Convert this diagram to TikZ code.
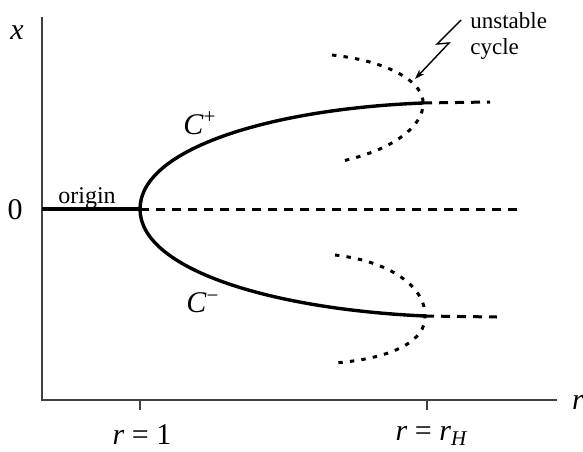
\documentclass[tikz,border=0pt]{standalone}
\usepackage{fontspec}
\setmainfont{Liberation Serif}
\usetikzlibrary{arrows.meta}
\tikzset{
  axis/.style     = {line width=0.75pt, black!75},
  tickmark/.style = {line width=0.7pt, black!75},
  branch/.style   = {line width=1.7pt},
  ubranch/.style  = {line width=1.5pt, dash pattern=on 4.5pt off 3.5pt},
  ucyc/.style     = {line width=1.5pt, dash pattern=on 2.2pt off 3.6pt},
  pointer/.style  = {line width=0.7pt, -{Stealth[length=5pt,width=3.4pt]}},
  lbl/.style      = {font=\fontsize{15}{18}\selectfont, inner sep=1pt},
  slbl/.style     = {font=\fontsize{12}{14}\selectfont, inner sep=1pt},
  nlbl/.style     = {font=\fontsize{11.5}{13}\selectfont, inner sep=0pt,
                     align=left},
}

\begin{document}
\begin{tikzpicture}[x=0.5pt,y=-0.5pt]
  \useasboundingbox (0,0) rectangle (583,451);
  % axes
  \coordinate (O) at (42,400);
  \coordinate (ytop) at (42,17);
  \coordinate (xend) at (557,400);
  \draw[axis] (ytop) -- (O) -- (xend);
  \node[lbl] (xl) at (17,33) {\textit{x}};
  \node[lbl] (rl) at (578,402) {\textit{r}};
  \node[lbl] (zero) at (15,210) {0};
  % ticks
  \coordinate (t1) at (140,400);
  \coordinate (tH) at (427,400);
  \draw[tickmark] (t1) -- ++(0,10);
  \draw[tickmark] (tH) -- ++(0,10);
  \node[lbl] (r1) at (142,435) {\textit{r} = 1};
  \node[lbl] (rH) at (432,436) {\textit{r} = \textit{r}\textsubscript{\textit{H}}};
  % origin and branches
  \coordinate (z) at (42,209);
  \coordinate (vtx) at (140,209);
  \coordinate (zend) at (520,209);
  \coordinate (cp) at (423,103);
  \coordinate (cm) at (425,316);
  \draw[branch] (z) -- (vtx);
  \draw[ubranch] (vtx) -- (zend);
  \node[slbl, anchor=south] (orig) at (87,211) {origin};
  \draw[branch] (vtx) .. controls (140,149) and (270,109) .. (cp);
  \draw[branch] (vtx) .. controls (140,269) and (270,309) .. (cm);
  \draw[ubranch] (cp) -- (490,102);
  \draw[ubranch] (cm) -- (497,317);
  \node[lbl] (Cp) at (200,123) {\textit{C}\textsuperscript{+}};
  \node[lbl] (Cm) at (203,303) {\textit{C}\textsuperscript{−}};
  % unstable cycles
  \draw[ucyc] (332,55) .. controls (395,62) and (424,85) .. (cp)
                       .. controls (424,125) and (395,150) .. (338,162);
  \draw[ucyc] (335,255) .. controls (395,262) and (426,290) .. (cm)
                        .. controls (426,340) and (395,358) .. (335,363);
  % annotation
  \node[nlbl, anchor=north west] (note) at (470,12) {unstable\\cycle};
  \coordinate (z0) at (461,20);
  \coordinate (tip) at (415,79);
  \draw[pointer] (z0) -- ++(-24,24) -- ++(12,-1) -- (tip);
\end{tikzpicture}
\end{document}
